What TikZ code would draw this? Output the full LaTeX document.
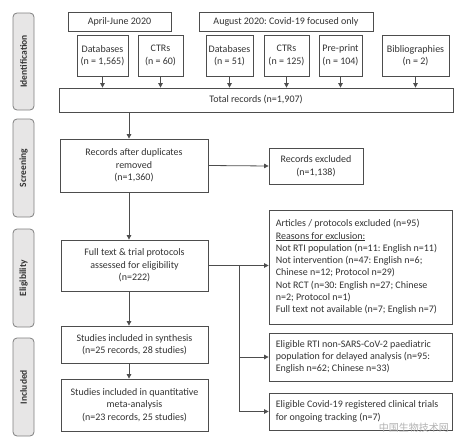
\documentclass[tikz,border=0pt]{standalone}
\usepackage{fontspec}
\setmainfont{Carlito}
\newfontfamily\cjk{Noto Sans CJK SC}
\usetikzlibrary{arrows.meta}
\definecolor{txt}{HTML}{333333}
\definecolor{edge}{HTML}{4D4D4D}
\definecolor{sidefill}{HTML}{E7E6E6}
\definecolor{sideedge}{HTML}{7F7F7F}
\tikzset{
  box/.style={draw=edge, line width=0.8pt, fill=white, text=txt, inner sep=0pt, align=center,
    font=\fontsize{10}{12.5}\selectfont\frenchspacing},
  frame/.style={draw=edge, line width=0.8pt, fill=white, inner sep=0pt, minimum width=183pt},
  ltext/.style={anchor=west, text=txt, inner sep=0pt, align=left,
    font=\fontsize{10}{12.3}\selectfont\frenchspacing},
  side/.style={draw=sideedge, line width=0.8pt, fill=sidefill, rounded corners=4pt, text=txt,
    minimum width=21pt, minimum height=98pt, inner sep=0pt},
  sidelabel/.style={rotate=90, font=\fontsize{9.5}{11}\selectfont\bfseries, text=txt},
  conn/.style={draw=edge, line width=0.8pt},
  arr/.style={conn, -{Triangle[length=4.5pt,width=4.5pt]}},
}
\begin{document}
\begin{tikzpicture}[x=1pt,y=-1pt]
\useasboundingbox (0,0) rectangle (464,447);
% side bars
\node[side, minimum height=97pt] (sid) at (23.5,61.5) {};
\node[sidelabel] (sidl) at (sid.center) {Identification};
\node[side] (sscr) at (23.5,168) {};
\node[sidelabel] (sscrl) at (sscr.center) {Screening};
\node[side] (selg) at (23.5,278) {};
\node[sidelabel] (selgl) at (selg.center) {Eligibility};
\node[side] (sinc) at (23.5,387) {};
\node[sidelabel] (sincl) at (sinc.center) {Included};
% top headers
\node[box, minimum width=103pt, minimum height=19pt] (apr) at (119.5,21.5) {April-June 2020};
\node[box, minimum width=174pt, minimum height=19pt] (aug) at (286,21.5) {August 2020: Covid-19 focused only};
% sources
\node[box, minimum width=51pt, minimum height=41pt] (db1) at (102.5,55.5) {Databases\\(n = 1,565)};
\node[box, minimum width=45pt, minimum height=41pt] (ctr1) at (160.5,55.5) {CTRs\\(n = 60)};
\node[box, minimum width=47pt, minimum height=41pt] (db2) at (229.5,55.5) {Databases\\(n = 51)};
\node[box, minimum width=45pt, minimum height=41pt] (ctr2) at (286.5,55.5) {CTRs\\(n = 125)};
\node[box, minimum width=43pt, minimum height=41pt] (pre) at (340.5,55.5) {Pre-print\\(n = 104)};
\node[box, minimum width=67pt, minimum height=41pt] (bib) at (415.5,55.5) {Bibliographies\\(n = 2)};
% total
\node[box, minimum width=394pt, minimum height=24pt] (total) at (256,100) {Total records (n=1,907)};
% main column
\node[box, minimum width=148pt, minimum height=53pt] (dup) at (134,165.5) {Records after duplicates\\removed\\(n=1,360)};
\node[box, minimum width=94pt, minimum height=36pt] (excl) at (316,166) {Records excluded\\(n=1,138)};
\node[box, minimum width=147pt, minimum height=51pt] (full) at (134.5,265.5) {Full text \& trial protocols\\assessed for eligibility\\(n=222)};
\node[box, minimum width=147pt, minimum height=37pt] (syn) at (134.5,344.5) {Studies included in synthesis\\(n=25 records, 28 studies)};
\node[box, minimum width=147pt, minimum height=52pt] (meta) at (134.5,405) {Studies included in quantitative\\meta-analysis\\(n=23 records, 25 studies)};
% right column
\node[frame, minimum height=114pt] (art) at (360.5,267) {};
\node[ltext] (artt) at ([xshift=7pt]art.west) {Articles / protocols excluded (n=95)\\\underline{Reasons for exclusion:}\\Not RTI population (n=11: English n=11)\\Not intervention (n=47: English n=6;\\Chinese n=12; Protocol n=29)\\Not RCT (n=30: English n=27; Chinese\\n=2; Protocol n=1)\\Full text not available (n=7; English n=7)};
\node[frame, minimum height=48pt] (rti) at (360.5,357) {};
\node[ltext] (rtit) at ([xshift=7pt]rti.west) {Eligible RTI non-SARS-CoV-2 paediatric\\population for delayed analysis (n=95:\\English n=62; Chinese n=33)};
\node[frame, minimum height=37pt] (cov) at (360.5,411.5) {};
\node[ltext] (covt) at ([xshift=7pt]cov.west) {Eligible Covid-19 registered clinical trials\\for ongoing tracking (n=7)};
% helper coordinates
\coordinate (spine) at (129,0);
\coordinate (branch) at (239,0);
% arrows into total
\foreach \s in {db1,ctr1,db2,ctr2,pre,bib}{
  \draw[arr] (\s.south) -- (\s.south |- total.north);
}
% main flow
\draw[arr] (total.south -| spine) -- (dup.north -| spine);
\draw[arr] (dup.east) -- (excl.west);
\draw[arr] (dup.south -| spine) -- (full.north -| spine);
\draw[arr] (full.east) -- (art.west |- full.east);
\draw[arr] (full.south -| spine) -- (syn.north -| spine);
\draw[arr] (syn.south -| spine) -- (meta.north -| spine);
\draw[conn] (full.east -| branch) -- (cov.west -| branch);
\draw[arr] (rti.west -| branch) -- (rti.west);
\draw[arr] (cov.west -| branch) -- (cov.west);
% watermark
\node[text=black!30, font=\cjk\fontsize{10}{11}\selectfont, anchor=east, inner sep=0pt] (wm) at (449,428) {中国生物技术网};
\end{tikzpicture}
\end{document}
